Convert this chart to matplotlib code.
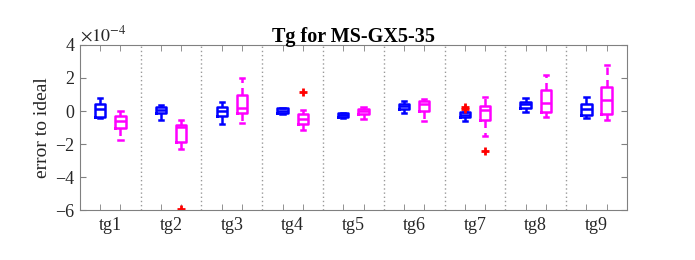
import matplotlib
matplotlib.use("Agg")
import matplotlib.pyplot as plt
import numpy as np

# values in units of 1e-4
groups = ["tg1", "tg2", "tg3", "tg4", "tg5", "tg6", "tg7", "tg8", "tg9"]

# blue series: whislo, q1, med, q3, whishi
blue_lo  = [-0.43, -0.53, -0.79, -0.18, -0.40, -0.10, -0.59, -0.04, -0.43]
blue_q1  = [-0.38, -0.14, -0.28, -0.14, -0.36,  0.12, -0.38,  0.16, -0.24]
blue_med = [ 0.14,  0.08,  0.02, -0.02, -0.24,  0.28, -0.24,  0.41,  0.12]
blue_q3  = [ 0.45,  0.26,  0.22,  0.16, -0.14,  0.43, -0.08,  0.57,  0.43]
blue_hi  = [ 0.79,  0.38,  0.57,  0.20, -0.12,  0.59, -0.05,  0.79,  0.87]
blue_out = [[], [], [], [], [], [], [0.22, 0.10], [], []]

# magenta series
mag_lo  = [-1.78, -2.29, -0.75, -1.14, -0.50, -0.63, -1.54, -0.35, -0.53]
mag_q1  = [-1.00, -1.88, -0.12, -0.79, -0.18, -0.02, -0.53, -0.08, -0.18]
mag_med = [-0.59, -0.99,  0.16, -0.49, -0.02,  0.45,  0.08,  0.49,  0.67]
mag_q3  = [-0.28, -0.84,  0.99, -0.18,  0.10,  0.59,  0.32,  1.30,  1.44]
mag_hi  = [-0.02, -0.55,  2.03,  0.06,  0.26,  0.73,  0.87,  2.19,  2.78]
mag_out = [[], [-5.95], [], [1.14], [], [], [-2.41], [], []]

blue = "#0000ff"
mag = "#ff00ff"
font = ["Liberation Serif", "DejaVu Serif"]
plt.rcParams["font.family"] = font
plt.rcParams["mathtext.fontset"] = "stix"

def stats(lo, q1, med, q3, hi, out):
    return [dict(whislo=a, q1=b, med=c, q3=d, whishi=e, fliers=f)
            for a, b, c, d, e, f in zip(lo, q1, med, q3, hi, out)]

fig = plt.figure(figsize=(6.95, 2.6), dpi=100)
ax = fig.add_axes([0.115, 0.192, 0.787, 0.635])

x = np.arange(1, len(groups) + 1)
off = 1 / 6
for st, pos, col in [(stats(blue_lo, blue_q1, blue_med, blue_q3, blue_hi, blue_out), x - off, blue),
                     (stats(mag_lo, mag_q1, mag_med, mag_q3, mag_hi, mag_out), x + off, mag)]:
    ax.bxp(st, positions=pos, widths=0.17, showfliers=True, manage_ticks=False,
           boxprops=dict(color=col, lw=1.8),
           medianprops=dict(color=col, lw=1.8),
           whiskerprops=dict(color=col, lw=1.8, linestyle=(0, (3, 2))),
           capprops=dict(color=col, lw=1.8),
           capwidths=0.07,
           flierprops=dict(marker="+", markeredgecolor="#ff0000", markersize=6, markeredgewidth=2))

for s in np.arange(1.5, len(groups), 1):
    ax.axvline(s, color="0.6", lw=1, linestyle=(0, (1, 2)), zorder=0)

ax.set_xlim(0.5, len(groups) + 0.5)
ax.set_ylim(-6, 4)
ax.set_yticks([-6, -4, -2, 0, 2, 4])
ax.set_xticks(x)
ax.set_xticklabels(groups)
ax.set_xticks(np.sort(np.concatenate([x - off, x + off])), minor=True)
ax.tick_params(axis="x", which="major", length=0, pad=5, labelsize=13, colors="0.15")
ax.tick_params(axis="x", which="minor", direction="in", length=4, top=True, color="0.5")
ax.tick_params(axis="y", direction="in", length=4, right=True, color="0.5", labelsize=13,
               labelcolor="0.15", pad=4)
for sp in ax.spines.values():
    sp.set_color("0.5")

ax.set_ylabel("error to ideal", fontsize=14, color="0.15", labelpad=3)
ax.set_title("Tg for MS-GX5-35", fontsize=14.5, fontweight="bold", pad=2)
ax.text(0.0, 1.0, r"$\times10^{-4}$", transform=ax.transAxes, fontsize=13,
        color="0.15", ha="left", va="bottom")

fig.savefig("out.png", dpi=100)
